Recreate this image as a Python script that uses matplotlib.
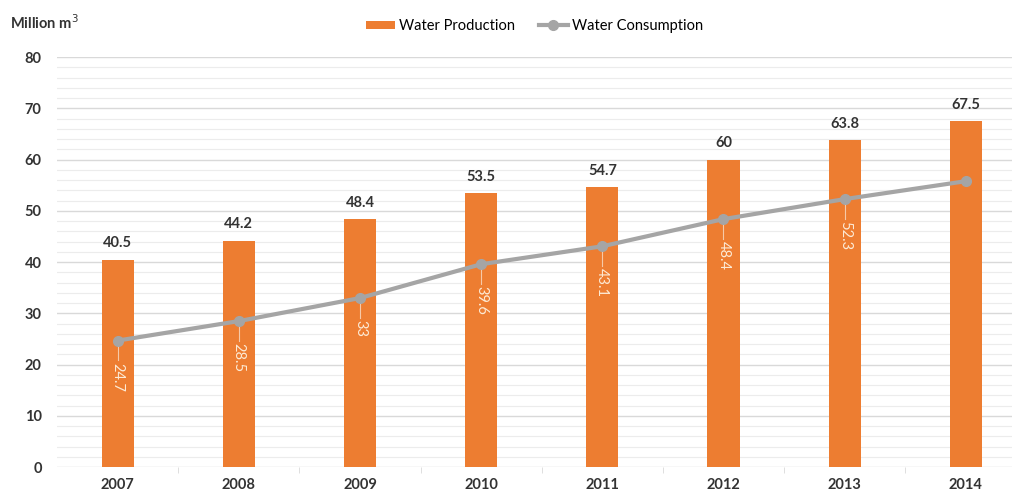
import matplotlib.pyplot as plt
import numpy as np

plt.rcParams['font.family'] = ['Lato', 'DejaVu Sans']

years = ['2007', '2008', '2009', '2010', '2011', '2012', '2013', '2014']
production = [40.5, 44.2, 48.4, 53.5, 54.7, 60, 63.8, 67.5]
consumption = [24.7, 28.5, 33, 39.6, 43.1, 48.4, 52.3, 55.8]
consumption_labels = ['24.7', '28.5', '33', '39.6', '43.1', '48.4', '52.3', '']

orange = '#ED7D31'
grey = '#A5A5A5'

fig = plt.figure(figsize=(10.18, 4.97), dpi=100)
ax = fig.add_axes([0.056, 0.06, 0.938, 0.825])

x = np.arange(len(years))

# grid: major every 10, minor every 2
for v in np.arange(0, 81, 2):
    major = v % 10 == 0
    ax.axhline(v, color='#d9d9d9' if major else '#ececec',
               lw=1.0 if major else 0.8, zorder=0)

bars = ax.bar(x, production, width=0.265, color=orange, zorder=2,
              label='Water Production')
line, = ax.plot(x, consumption, color=grey, lw=3, marker='o', ms=7,
                zorder=3, label='Water Consumption')

for xi, v in zip(x, production):
    ax.text(xi, v + 1.8, f'{v:g}', ha='center', va='bottom',
            fontsize=10.5, fontweight='bold', color='#333333')

for xi, v, lab in zip(x, consumption, consumption_labels):
    if not lab:
        continue
    ax.plot([xi, xi], [v - 1.2, v - 3.8], color='#f6c9a8', lw=0.8, zorder=3)
    ax.text(xi, v - 4.3, lab, ha='left', va='center', rotation=-90,
            rotation_mode='anchor', fontsize=10.5, color='#fdebd6', zorder=4)

ax.set_ylim(0, 80)
ax.set_xlim(-0.5, 7.38)
ax.set_yticks(range(0, 81, 10))
ax.set_xticks(x)
ax.set_xticklabels(years)
ax.set_xticks(x[:-1] + 0.5, minor=True)
ax.tick_params(axis='x', which='major', length=0, pad=8)
ax.tick_params(axis='x', which='minor', length=4, color='#d9d9d9')
ax.tick_params(axis='y', length=0, pad=11)
for lab in ax.get_xticklabels() + ax.get_yticklabels():
    lab.set_fontsize(10.5)
    lab.set_fontweight('bold')
    lab.set_color('#333333')
for s in ax.spines.values():
    s.set_visible(False)

fig.text(0.01, 0.955, 'Million m$^3$', fontsize=10.5, fontweight='bold',
         color='#333333', ha='left', va='center')

ax.legend([bars, line], ['Water Production', 'Water Consumption'],
          loc='center', bbox_to_anchor=(0.5, 1.076), ncol=2,
          frameon=False, fontsize=10.5, handlelength=2.0, handleheight=0.5,
          columnspacing=1.6, handletextpad=0.3)

fig.savefig('out.png', dpi=100, facecolor='white')
